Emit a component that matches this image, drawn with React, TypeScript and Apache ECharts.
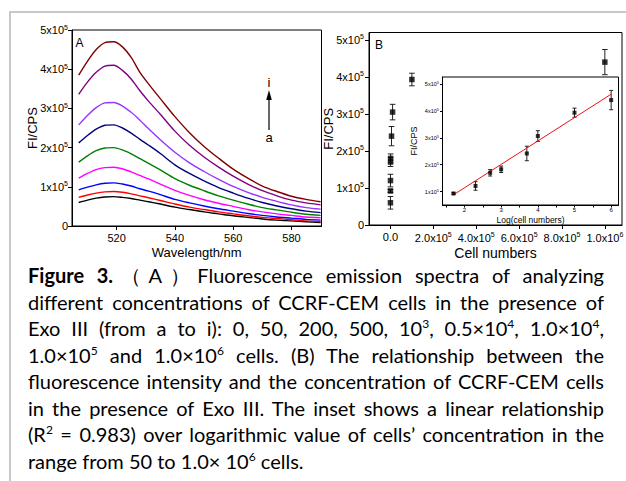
import React, { useEffect, useRef } from 'react';
import * as echarts from 'echarts';

// ---------- Panel A: emission spectra (FI in units of 10^5 CPS) ----------
const wavelengths = [507, 510, 513, 516, 519, 522, 525, 528, 531, 535, 540, 545, 550, 555, 560, 565, 570, 575, 580, 585, 590];
const curveA = [0.6, 0.66, 0.71, 0.74, 0.75, 0.73, 0.7, 0.66, 0.62, 0.56, 0.48, 0.42, 0.36, 0.31, 0.26, 0.22, 0.18, 0.15, 0.13, 0.11, 0.09];
const curveB = [0.73, 0.79, 0.84, 0.87, 0.88, 0.86, 0.82, 0.77, 0.72, 0.65, 0.56, 0.48, 0.42, 0.36, 0.31, 0.26, 0.22, 0.19, 0.16, 0.13, 0.11];
const curveC = [0.92, 0.99, 1.05, 1.09, 1.1, 1.07, 1.02, 0.95, 0.89, 0.8, 0.68, 0.59, 0.51, 0.44, 0.38, 0.32, 0.27, 0.23, 0.2, 0.17, 0.15];
const curveD = [1.22, 1.34, 1.44, 1.49, 1.5, 1.46, 1.38, 1.29, 1.2, 1.07, 0.91, 0.78, 0.67, 0.58, 0.5, 0.42, 0.36, 0.31, 0.27, 0.23, 0.21];
const curveE = [1.63, 1.79, 1.92, 1.99, 2.0, 1.94, 1.84, 1.72, 1.6, 1.43, 1.21, 1.04, 0.9, 0.77, 0.66, 0.56, 0.47, 0.41, 0.35, 0.3, 0.27];
const curveF = [2.12, 2.31, 2.47, 2.57, 2.58, 2.5, 2.37, 2.21, 2.06, 1.85, 1.56, 1.34, 1.15, 0.98, 0.84, 0.71, 0.6, 0.51, 0.44, 0.38, 0.34];
const curveG = [2.58, 2.82, 3.02, 3.14, 3.15, 3.06, 2.9, 2.7, 2.48, 2.2, 1.88, 1.61, 1.39, 1.19, 1.01, 0.86, 0.73, 0.63, 0.54, 0.47, 0.43];
const curveH = [3.36, 3.67, 3.92, 4.08, 4.1, 3.97, 3.75, 3.45, 3.18, 2.85, 2.42, 2.06, 1.76, 1.5, 1.27, 1.07, 0.9, 0.77, 0.66, 0.59, 0.54];
const curveI = [3.85, 4.2, 4.5, 4.68, 4.7, 4.57, 4.3, 3.92, 3.62, 3.25, 2.79, 2.38, 2.03, 1.73, 1.45, 1.22, 1.02, 0.88, 0.76, 0.68, 0.62];
const curveNames = ['a', 'b', 'c', 'd', 'e', 'f', 'g', 'h', 'i'];
const curveColors = ['#000000', '#ff0000', '#0000ff', '#ff00ff', '#008000', '#000080', '#9933ff', '#800080', '#800000'];
const spectraYTicks = [0, 1, 2, 3, 4, 5];
const spectraXTicks = [520, 540, 560, 580];

// ---------- Panel B: FI vs. cell numbers ----------
const cellCounts = [0, 50, 200, 500, 1000, 5000, 10000, 100000, 1000000];
const fiValues = [0.6, 0.92, 1.2, 1.7, 1.8, 2.4, 3.05, 3.93, 4.4];
const fiErrors = [0.17, 0.04, 0.17, 0.12, 0.12, 0.26, 0.21, 0.17, 0.34];
const cellTicks = [0, 200000, 400000, 600000, 800000, 1000000];
const fiTicks = [0, 1, 2, 3, 4, 5];

// ---------- Inset: FI vs. log(cell numbers) ----------
const logCells = [1.7, 2.3, 2.7, 3.0, 3.7, 4.0, 5.0, 6.0];
const insetFi = [0.93, 1.21, 1.7, 1.83, 2.42, 3.07, 3.94, 4.41];
const insetErr = [0.03, 0.16, 0.12, 0.12, 0.27, 0.2, 0.17, 0.36];
const fitX = [1.7, 6.0];
const fitY = [0.88, 4.63];
const logLabelTicks = [2, 3, 4, 5, 6];
const logMinorTicks = [1.5, 2, 2.5, 3, 3.5, 4, 4.5, 5, 5.5, 6];
const insetFiTicks = [1, 2, 3, 4, 5];

const FONT = 'Liberation Sans, Arial, Helvetica, sans-serif';

function supRich(base: number, sup: number, raise: number) {
  return {
    m: { fontSize: base, fontFamily: FONT, color: '#000' },
    s: { fontSize: sup, fontFamily: FONT, color: '#000', verticalAlign: 'top', padding: [0, 0, raise, 0] },
  };
}

function errorSeries(xIdx: number, yIdx: number, xs: number[], ys: number[], es: number[], cap: number, color: string) {
  return {
    type: 'custom',
    xAxisIndex: xIdx,
    yAxisIndex: yIdx,
    z: 3,
    data: xs.map((x, i) => [x, ys[i], es[i]]),
    renderItem: (params: any, api: any) => {
      const x = api.value(0);
      const y = api.value(1);
      const e = api.value(2);
      const top = api.coord([x, y + e]);
      const bot = api.coord([x, y - e]);
      const st = { stroke: color, lineWidth: 1 };
      return {
        type: 'group',
        children: [
          { type: 'line', shape: { x1: top[0], y1: top[1], x2: bot[0], y2: bot[1] }, style: st },
          { type: 'line', shape: { x1: top[0] - cap, y1: top[1], x2: top[0] + cap, y2: top[1] }, style: st },
          { type: 'line', shape: { x1: bot[0] - cap, y1: bot[1], x2: bot[0] + cap, y2: bot[1] }, style: st },
        ],
      };
    },
  };
}

const axisBase = {
  axisLine: { onZero: false, lineStyle: { color: '#000', width: 1 } },
  splitLine: { show: false },
  nameMoveOverlap: false,
  nameTextStyle: { fontFamily: FONT, color: '#000' },
};

function buildOption() {
  const curves = [curveA, curveB, curveC, curveD, curveE, curveF, curveG, curveH, curveI];
  const lineSeries = curves.map((c, k) => ({
    type: 'line',
    name: curveNames[k],
    xAxisIndex: 0,
    yAxisIndex: 0,
    data: wavelengths.map((w, i) => [w, c[i]]),
    showSymbol: false,
    smooth: 0.3,
    lineStyle: { color: curveColors[k], width: 1.4 },
    itemStyle: { color: curveColors[k] },
  }));

  return {
    animation: false,
    backgroundColor: '#fff',
    grid: [
      { left: 72, top: 30, width: 249.5, height: 196, show: true, borderColor: '#000', borderWidth: 1, outerBoundsMode: 'none' },
      { left: 369, top: 32.5, width: 253, height: 192.5, show: true, borderColor: '#000', borderWidth: 1, outerBoundsMode: 'none' },
      { left: 442.5, top: 77, width: 176, height: 128, show: true, borderColor: '#000', borderWidth: 1, backgroundColor: '#fff', outerBoundsMode: 'none' },
    ],
    xAxis: [
      {
        ...axisBase,
        gridIndex: 0, type: 'value', min: 504.7, max: 590.3,
        axisTick: { show: true, inside: false, length: 4, customValues: spectraXTicks, lineStyle: { color: '#000' } },
        axisLabel: { customValues: spectraXTicks, fontSize: 11, margin: 6, color: '#000', fontFamily: FONT },
        name: 'Wavelength/nm', nameLocation: 'middle', nameGap: 19.5,
        nameTextStyle: { fontFamily: FONT, color: '#000', fontSize: 13 },
      },
      {
        ...axisBase,
        gridIndex: 1, type: 'value', min: -100000, max: 1080000,
        axisTick: { show: true, inside: false, length: 4, customValues: cellTicks, lineStyle: { color: '#000' } },
        axisLabel: {
          customValues: cellTicks, margin: 6, color: '#000', fontFamily: FONT, fontSize: 11,
          formatter: (v: number) => {
            if (v === 0) return '{m|0.0}';
            if (v >= 1000000) return `{m|${(v / 1000000).toFixed(1)}x10}{s|6}`;
            return `{m|${(v / 100000).toFixed(1)}x10}{s|5}`;
          },
          rich: supRich(11, 7, 6),
        },
        name: 'Cell numbers', nameLocation: 'middle', nameGap: 21,
        nameTextStyle: { fontFamily: FONT, color: '#000', fontSize: 14 },
      },
      {
        ...axisBase,
        gridIndex: 2, type: 'value', min: 1.4, max: 6.2,
        axisTick: { show: true, inside: false, length: 2.5, customValues: logMinorTicks, lineStyle: { color: '#000' } },
        axisLabel: { customValues: logLabelTicks, fontSize: 6, margin: 2, color: '#000', fontFamily: FONT },
        name: 'Log(cell numbers)', nameLocation: 'middle', nameGap: 10.5,
        nameTextStyle: { fontFamily: FONT, color: '#000', fontSize: 8.5 },
      },
    ],
    yAxis: [
      {
        ...axisBase,
        gridIndex: 0, type: 'value', min: 0, max: 5,
        axisTick: { show: true, inside: false, length: 4, customValues: spectraYTicks, lineStyle: { color: '#000' } },
        axisLabel: {
          customValues: spectraYTicks, margin: 4, color: '#000', fontFamily: FONT, fontSize: 11,
          formatter: (v: number) => (v === 0 ? '{m|0}' : `{m|${v}x10}{s|5}`),
          rich: supRich(11, 7, 6),
        },
        name: 'FI/CPS', nameLocation: 'middle', nameGap: 33,
        nameTextStyle: { fontFamily: FONT, color: '#000', fontSize: 13 },
      },
      {
        ...axisBase,
        gridIndex: 1, type: 'value', min: 0, max: 5.2,
        axisTick: { show: true, inside: false, length: 4, customValues: fiTicks, lineStyle: { color: '#000' } },
        axisLabel: {
          customValues: fiTicks, margin: 5, color: '#000', fontFamily: FONT, fontSize: 11,
          formatter: (v: number) => (v === 0 ? '{m|0}' : `{m|${v}x10}{s|5}`),
          rich: supRich(11, 7, 6),
        },
        name: 'FI/CPS', nameLocation: 'middle', nameGap: 34,
        nameTextStyle: { fontFamily: FONT, color: '#000', fontSize: 13 },
      },
      {
        ...axisBase,
        gridIndex: 2, type: 'value', min: 0.5, max: 5.27,
        axisTick: { show: true, inside: false, length: 2.5, customValues: insetFiTicks, lineStyle: { color: '#000' } },
        axisLabel: {
          customValues: insetFiTicks, margin: 3.5, color: '#000', fontFamily: FONT, fontSize: 5.5,
          formatter: (v: number) => `{m|${v}x10}{s|5}`,
          rich: supRich(5.5, 4, 3),
        },
        name: 'FI/CPS', nameLocation: 'middle', nameGap: 24,
        nameTextStyle: { fontFamily: FONT, color: '#000', fontSize: 9 },
      },
    ],
    series: [
      ...lineSeries,
      errorSeries(1, 1, cellCounts, fiValues, fiErrors, 2.8, '#222'),
      {
        type: 'scatter', xAxisIndex: 1, yAxisIndex: 1, z: 4,
        data: cellCounts.map((c, i) => [c, fiValues[i]]),
        symbol: 'rect', symbolSize: 5.5, itemStyle: { color: '#000' },
      },
      {
        type: 'line', xAxisIndex: 2, yAxisIndex: 2, z: 3,
        data: fitX.map((x, i) => [x, fitY[i]]),
        showSymbol: false, lineStyle: { color: '#ee1111', width: 1 },
      },
      errorSeries(2, 2, logCells, insetFi, insetErr, 2, '#222'),
      {
        type: 'scatter', xAxisIndex: 2, yAxisIndex: 2, z: 4,
        data: logCells.map((x, i) => [x, insetFi[i]]),
        symbol: 'rect', symbolSize: 4, itemStyle: { color: '#000' },
      },
    ],
    graphic: [
      { type: 'line', shape: { x1: 9, y1: 12, x2: 626, y2: 12 }, style: { stroke: '#c8c8c8', lineWidth: 2 }, silent: true },
      { type: 'line', shape: { x1: 10, y1: 11, x2: 10, y2: 481 }, style: { stroke: '#c8c8c8', lineWidth: 2 }, silent: true },
      { type: 'text', x: 75.5, y: 42.5, style: { text: 'A', fontSize: 12, fontFamily: FONT, fill: '#000', verticalAlign: 'middle' } },
      { type: 'text', x: 375, y: 45, style: { text: 'B', fontSize: 12, fontFamily: FONT, fill: '#000', verticalAlign: 'middle' } },
      { type: 'line', shape: { x1: 269, y1: 130, x2: 269, y2: 98 }, style: { stroke: '#000', lineWidth: 1.2 } },
      { type: 'polygon', shape: { points: [[266.2, 100], [271.8, 100], [269, 90]] }, style: { fill: '#000' } },
      { type: 'text', x: 269, y: 82.5, style: { text: 'i', fontSize: 13, fontFamily: FONT, fill: '#000', align: 'center', verticalAlign: 'middle' } },
      { type: 'text', x: 269, y: 137, style: { text: 'a', fontSize: 13, fontFamily: FONT, fill: '#000', align: 'center', verticalAlign: 'middle' } },
    ],
  };
}

function Sup({ children }: { children: React.ReactNode }) {
  return (
    <span style={{ fontSize: 12, position: 'relative', top: -8, lineHeight: 0 }}>{children}</span>
  );
}

const captionLines: React.ReactNode[] = [
  <><b>Figure 3.</b>（A）Fluorescence emission spectra of analyzing</>,
  <>different concentrations of CCRF-CEM cells in the presence of</>,
  <>Exo III (from a to i): 0, 50, 200, 500, 10<Sup>3</Sup>, 0.5×10<Sup>4</Sup>, 1.0×10<Sup>4</Sup>,</>,
  <>1.0×10<Sup>5</Sup> and 1.0×10<Sup>6</Sup> cells. (B) The relationship between the</>,
  <>fluorescence intensity and the concentration of CCRF-CEM cells</>,
  <>in the presence of Exo III. The inset shows a linear relationship</>,
  <>(R<Sup>2</Sup> = 0.983) over logarithmic value of cells’ concentration in the</>,
  <>range from 50 to 1.0× 10<Sup>6</Sup> cells.</>,
];

export default function App() {
  const ref = useRef<HTMLDivElement>(null);
  useEffect(() => {
    if (!ref.current) return;
    const chart = echarts.init(ref.current, undefined, { renderer: 'svg' });
    chart.setOption(buildOption() as any);
    return () => chart.dispose();
  }, []);

  return (
    <div style={{ position: 'absolute', left: 0, top: 0, width: 626, height: 481, background: '#fff', overflow: 'hidden' }}>
      <div ref={ref} style={{ position: 'absolute', left: 0, top: 0, width: 626, height: 481 }} />
      <div
        style={{
          position: 'absolute', left: 28, top: 262, width: 576,
          fontFamily: 'Lato, "Noto Sans", sans-serif', fontSize: 20, lineHeight: '26.5px', color: '#000',
        }}
      >
        {captionLines.map((ln, i) => (
          <div
            key={i}
            style={{
              height: 26.5,
              textAlign: 'justify',
              textAlignLast: i === captionLines.length - 1 ? 'left' : 'justify',
              whiteSpace: 'nowrap',
            }}
          >
            {ln}
          </div>
        ))}
      </div>
    </div>
  );
}
